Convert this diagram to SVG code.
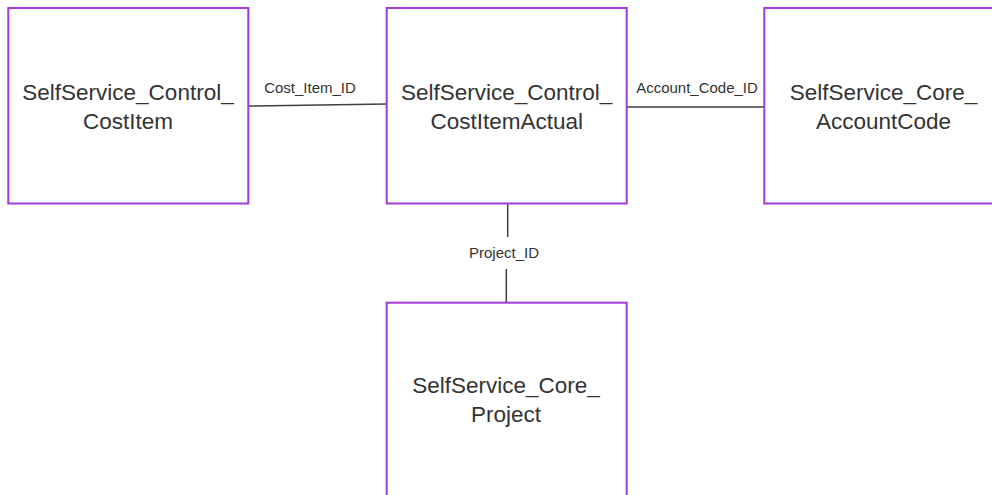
<svg xmlns="http://www.w3.org/2000/svg" width="992" height="495" viewBox="0 0 992 495">
<style>
.box{fill:#fff;stroke:#a23ad6;stroke-width:2}
.t{font-family:"Liberation Sans",Arial,sans-serif;font-size:22.5px;fill:#333;text-anchor:middle}
.l{font-family:"Liberation Sans",Arial,sans-serif;font-size:15px;fill:#333;text-anchor:middle}
.c{stroke:#404040;stroke-width:1.5;fill:none}
</style>
<rect width="992" height="495" fill="#fff"/>
<g id="connectors">
<line class="c" x1="248" y1="106" x2="387" y2="104"/>
<line class="c" x1="627" y1="107" x2="764" y2="107"/>
<line class="c" x1="507.7" y1="204" x2="507.7" y2="237"/>
<line class="c" x1="506.3" y1="269" x2="506.3" y2="303"/>
<text class="l" x="310" y="93">Cost_Item_ID</text>
<text class="l" x="697" y="93">Account_Code_ID</text>
<text class="l" x="504" y="258">Project_ID</text>
</g>
<g id="costitem">
<rect class="box" x="8.3" y="8" width="240" height="195.5"/>
<text class="t" x="128" y="100">SelfService_Control_</text>
<text class="t" x="128" y="128.5">CostItem</text>
</g>
<g id="costitemactual">
<rect class="box" x="386.7" y="8" width="240" height="195.5"/>
<text class="t" x="506.7" y="100">SelfService_Control_</text>
<text class="t" x="506.7" y="128.5">CostItemActual</text>
</g>
<g id="accountcode">
<rect class="box" x="764.3" y="8" width="240" height="195.5"/>
<text class="t" x="883.5" y="100">SelfService_Core_</text>
<text class="t" x="883.5" y="128.5">AccountCode</text>
</g>
<g id="project">
<rect class="box" x="386.7" y="302.7" width="240" height="200"/>
<text class="t" x="506" y="393">SelfService_Core_</text>
<text class="t" x="506" y="421.5">Project</text>
</g>
</svg>
